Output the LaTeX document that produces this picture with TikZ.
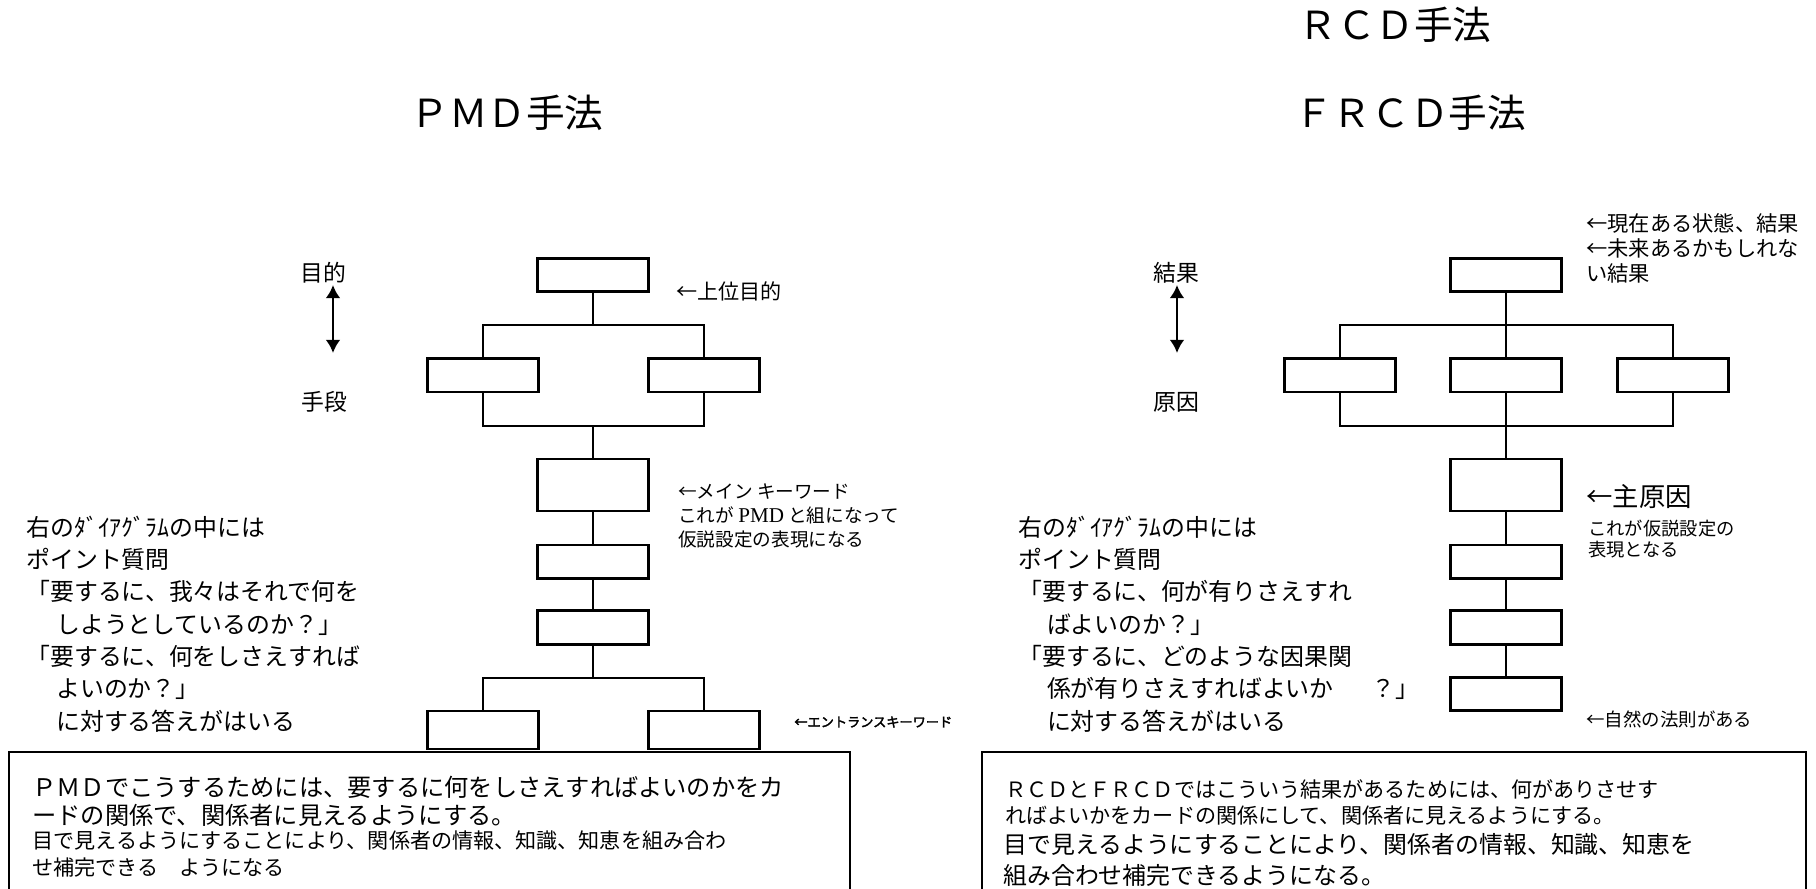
\documentclass[tikz,border=0pt]{standalone}
\usepackage{fontspec}
\setmainfont{Noto Sans CJK JP}
\newfontfamily\jpbold{Noto Sans CJK JP}[FakeBold=2.5]
\newfontfamily\latser{Liberation Serif}
\usetikzlibrary{arrows.meta}
\newcommand{\myfs}[2]{\fontsize{#1}{#2}\selectfont}
\begin{document}
\begin{tikzpicture}[x=0.02cm,y=-0.02cm,
  card/.style={draw, line width=1.6pt, minimum width=2.22cm, minimum height=0.67cm, inner sep=0pt},
  tallcard/.style={card, minimum height=1.04cm},
  lowcard/.style={card, minimum height=0.76cm},
  conn/.style={line width=1.15pt},
  dbl/.style={line width=1.6pt, {Latex[length=7.5pt,width=8.5pt]}-{Latex[length=7.5pt,width=8.5pt]}},
  lbl/.style={inner sep=0pt, anchor=west, align=left},
  title/.style={inner sep=0pt, font=\myfs{22}{26}},
  frame/.style={line width=0.7pt}]
\useasboundingbox (0,0) rectangle (1816,889);

% titles
\node[title] (tpmd) at (507,113) {ＰＭＤ手法};
\node[title] (trcd) at (1395,25) {ＲＣＤ手法};
\node[title] (tfrcd) at (1410,113) {ＦＲＣＤ手法};

% ---------------- PMD tree ----------------
\node[card] (p1) at (593,275) {};
\node[card] (p2a) at (483,375.3) {};
\node[card] (p2b) at (704,375.3) {};
\node[tallcard] (p3) at (593,485) {};
\node[card] (p4) at (593,561.7) {};
\node[card] (p5) at (593,627.5) {};
\node[lowcard] (p6a) at (483,730) {};
\node[lowcard] (p6b) at (704,730) {};
\coordinate (jA) at (593,325.3);
\coordinate (jB) at (593,426);
\coordinate (jC) at (593,677.7);
\draw[conn] (p1.south) -- (jA);
\draw[conn] (p2a.north) |- (jA) -| (p2b.north);
\draw[conn] (p2a.south) |- (jB) -| (p2b.south);
\draw[conn] (jB) -- (p3.north);
\draw[conn] (p3.south) -- (p4.north);
\draw[conn] (p4.south) -- (p5.north);
\draw[conn] (p5.south) -- (jC);
\draw[conn] (p6a.north) |- (jC) -| (p6b.north);

% ---------------- RCD tree ----------------
\node[card] (r1) at (1506,275) {};
\node[card] (r2a) at (1340,375.3) {};
\node[card] (r2b) at (1506,375.3) {};
\node[card] (r2c) at (1673,375.3) {};
\node[tallcard] (r3) at (1506,485) {};
\node[card] (r4) at (1506,561.7) {};
\node[card] (r5) at (1506,627.5) {};
\node[card] (r6) at (1506,694) {};
\coordinate (kA) at (1506,325.3);
\coordinate (kB) at (1506,426);
\draw[conn] (r1.south) -- (r2b.north);
\draw[conn] (r2a.north) |- (kA) -| (r2c.north);
\draw[conn] (r2a.south) |- (kB) -| (r2c.south);
\draw[conn] (r2b.south) -- (r3.north);
\draw[conn] (r3.south) -- (r4.north);
\draw[conn] (r4.south) -- (r5.north);
\draw[conn] (r5.south) -- (r6.north);

% ---------------- axis labels ----------------
\node[inner sep=0pt, font=\myfs{13}{15}] (mok) at (323,273) {目的};
\node[inner sep=0pt, font=\myfs{13}{15}] (shu) at (324,402) {手段};
\coordinate (pu) at (333,285);
\coordinate (pd) at (333,353);
\draw[dbl] (pu) -- (pd);

\node[inner sep=0pt, font=\myfs{13}{15}] (kek) at (1176,273) {結果};
\node[inner sep=0pt, font=\myfs{13}{15}] (gen) at (1176,402) {原因};
\coordinate (ru) at (1177,285);
\coordinate (rd) at (1177,353);
\draw[dbl] (ru) -- (rd);

% ---------------- side notes PMD ----------------
\node[lbl, font=\myfs{12}{14}] (n1) at (676,291) {←上位目的};
\node[lbl, font=\myfs{10.6}{13.9}] (n2) at (678,516)
  {←メイン キーワード\\これが {\latser\myfs{12}{13.9}PMD} と組になって\\仮説設定の表現になる};
\node[lbl, font=\jpbold\myfs{7.5}{9}] (n3) at (794,722) {←エントランスキーワード};

% ---------------- side notes RCD ----------------
\node[lbl, font=\myfs{12.1}{14.2}] (m1) at (1586,248)
  {←現在ある状態、結果\\←未来あるかもしれな\\い結果};
\node[lbl, font=\myfs{15}{17}] (m2) at (1586,497) {←主原因};
\node[lbl, font=\myfs{10.4}{12}] (m3) at (1588,539.5) {これが仮説設定の\\表現となる};
\node[lbl, font=\myfs{10.5}{12}] (m4) at (1586,719) {←自然の法則がある};

% ---------------- question blocks ----------------
\node[lbl, font=\myfs{13.6}{18.4}] (qL) at (26,624)
  {右のﾀﾞｲｱｸﾞﾗﾑの中には\\
   ポイント質問\\
   「要するに、我々はそれで何を\\
   \hspace*{0.25em}　しようとしているのか？」\\
   「要するに、何をしさえすれば\\
   \hspace*{0.25em}　よいのか？」\\
   \hspace*{0.25em}　に対する答えがはいる};
\node[lbl, font=\myfs{13.6}{18.4}] (qR) at (1018,624)
  {右のﾀﾞｲｱｸﾞﾗﾑの中には\\
   ポイント質問\\
   「要するに、何が有りさえすれ\\
   \hspace*{0.2em}　ばよいのか？」\\
   「要するに、どのような因果関\\
   \hspace*{0.2em}　係が有りさえすればよいか\hspace{1.6em}？」\\
   \hspace*{0.2em}　に対する答えがはいる};

% ---------------- bottom frames ----------------
\coordinate (fL1) at (9,889);
\coordinate (fL2) at (9,752);
\coordinate (fL3) at (850,752);
\coordinate (fL4) at (850,889);
\draw[frame] (fL1) -- (fL2) -- (fL3) -- (fL4);
\coordinate (fR1) at (982,889);
\coordinate (fR2) at (982,752);
\coordinate (fR3) at (1806,752);
\coordinate (fR4) at (1806,889);
\draw[frame] (fR1) -- (fR2) -- (fR3) -- (fR4);

\node[lbl, font=\myfs{13.8}{15}] (bL1) at (32,787) {ＰＭＤでこうするためには、要するに何をしさえすればよいのかをカ};
\node[lbl, font=\myfs{13.8}{15}] (bL2) at (32,815) {ードの関係で、関係者に見えるようにする。};
\node[lbl, font=\myfs{12}{14}] (bL3) at (32,841) {目で見えるようにすることにより、関係者の情報、知識、知恵を組み合わ};
\node[lbl, font=\myfs{12}{14}] (bL4) at (32,867) {せ補完できる　ようになる};

\node[lbl, font=\myfs{12}{14}] (bR1) at (1005,789) {ＲＣＤとＦＲＣＤではこういう結果があるためには、何がありさせす};
\node[lbl, font=\myfs{12}{14}] (bR2) at (1005,815) {ればよいかをカードの関係にして、関係者に見えるようにする。};
\node[lbl, font=\myfs{13.6}{15}] (bR3) at (1003,844) {目で見えるようにすることにより、関係者の情報、知識、知恵を};
\node[lbl, font=\myfs{13.6}{15}] (bR4) at (1003,875) {組み合わせ補完できるようになる。};
\end{tikzpicture}
\end{document}
